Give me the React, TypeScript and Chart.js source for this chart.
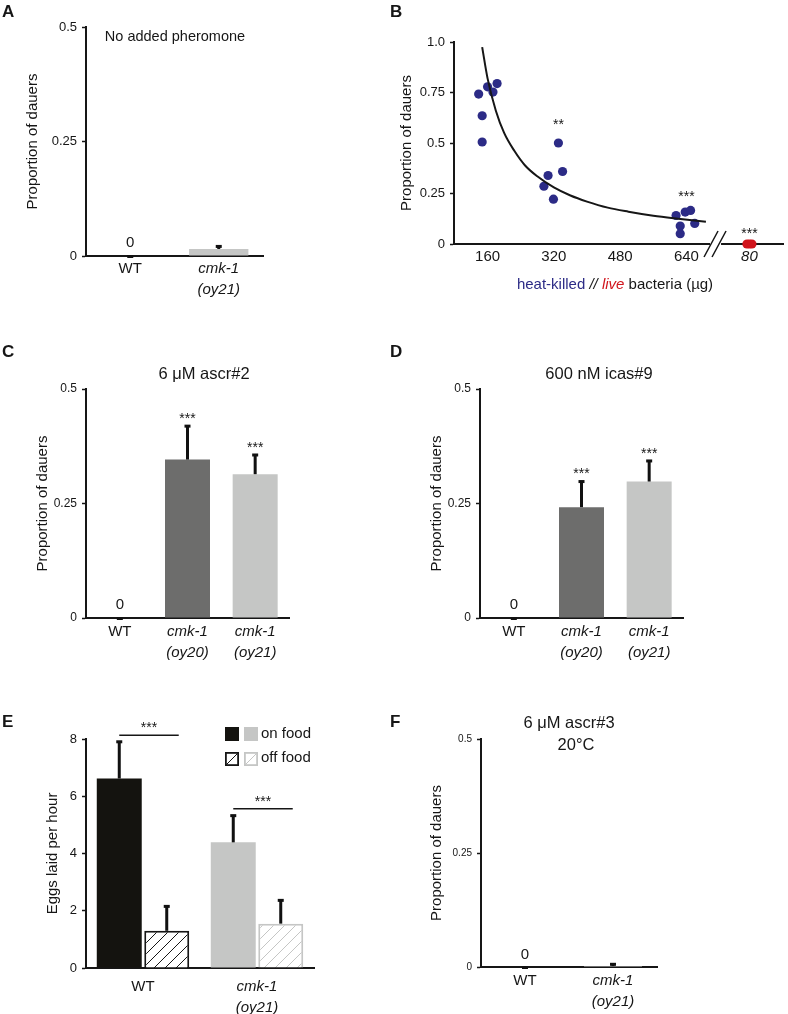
import React, { useEffect, useRef } from "react";
import { Chart, registerables } from "chart.js";

Chart.register(...registerables);

const FONT = "'Liberation Sans', Arial, Helvetica, sans-serif";
const INK = "#161616";
const BAR_BLACK = "#14130f";
const DARK_GRAY = "#6d6d6c";
const LIGHT_GRAY = "#c5c6c5";
const NAVY = "#2c2b86";
const RED = "#d1141c";

// ---------- Panel A : no added pheromone ----------
const aLabels = [["WT"], ["cmk-1", "(oy21)"]];
const aValues = [0, 0.0153];
const aErrors = [0, 0.0067];

// ---------- Panel B : heat-killed // live bacteria ----------
const bHeatKilledDose = [138.5, 147, 147, 160, 173, 183, 296, 306, 319, 331, 341, 615, 625, 625, 637, 650, 660];
const bHeatKilledProp = [0.742, 0.635, 0.505, 0.778, 0.752, 0.794, 0.286, 0.339, 0.222, 0.5, 0.359, 0.141, 0.089, 0.051, 0.158, 0.166, 0.102];
const bLiveDose = 80;
const bLiveProp = [0, 0, 0];
const bLiveJitter = [-6, 0, 6];
const bCurveDose = [147, 160, 180, 200, 225, 250, 280, 320, 360, 400, 450, 500, 560, 620, 687];
const bCurveProp = [0.975, 0.82, 0.66, 0.55, 0.46, 0.39, 0.335, 0.28, 0.24, 0.21, 0.18, 0.16, 0.14, 0.125, 0.11];
const bXTicks = [160, 320, 480, 640];
const bYTicks = [0, 0.25, 0.5, 0.75, 1];
// broken axis: where the live-bacteria group sits, and where the break is drawn
const bLiveSlot = 792;
const bBreakAt = 709;
const bStars = [
  { dose: 331, prop: 0.609, text: "**" },
  { dose: 640, prop: 0.252, text: "***" },
  { dose: bLiveSlot, prop: 0.069, text: "***" },
];

// ---------- Panel C : 6 uM ascr#2 ----------
const cLabels = [["WT"], ["cmk-1", "(oy20)"], ["cmk-1", "(oy21)"]];
const cValues = [0, 0.346, 0.314];
const cErrors = [0, 0.074, 0.043];
const cStars = ["", "***", "***"];

// ---------- Panel D : 600 nM icas#9 ----------
const dLabels = [["WT"], ["cmk-1", "(oy20)"], ["cmk-1", "(oy21)"]];
const dValues = [0, 0.242, 0.298];
const dErrors = [0, 0.057, 0.046];
const dStars = ["", "***", "***"];

// ---------- Panel E : eggs laid per hour ----------
const eLabels = [["WT"], ["cmk-1", "(oy21)"]];
const eOnFood = [6.62, 4.39];
const eOnFoodErr = [1.3, 0.95];
const eOffFood = [1.3, 1.55];
const eOffFoodErr = [0.87, 0.83];
const eSigLevel = [8.13, 5.56];
const eYTicks = [0, 2, 4, 6, 8];

// ---------- Panel F : 6 uM ascr#3 20C ----------
const fLabels = [["WT"], ["cmk-1", "(oy21)"]];
const fValues = [0, 0.002];
const fErrors = [0, 0.005];

const propTicks = [0, 0.25, 0.5];

type Box = { x: number; y: number; w: number; h: number };
type Area = { l: number; t: number; r: number; b: number };

function frame(c: Box, a: Area) {
  return {
    yWidth: a.l - c.x,
    xHeight: c.y + c.h - a.b,
    padding: { top: a.t - c.y, right: c.x + c.w - a.r, left: 0, bottom: 0 },
  };
}

function yAxis(width: number, ticks: number[], tickSize: number, title: string, titleCenter: number, fmt?: (v: number) => string) {
  const f = fmt || ((v: number) => String(v));
  return {
    type: "linear",
    position: "left",
    min: ticks[0],
    max: ticks[ticks.length - 1],
    afterFit: (s: any) => {
      s.width = width;
    },
    afterBuildTicks: (s: any) => {
      s.ticks = ticks.map((v) => ({ value: v }));
    },
    border: { display: true, color: INK, width: 2 },
    grid: { display: true, drawOnChartArea: false, drawTicks: true, tickLength: 4, tickWidth: 1.5, tickColor: INK, color: INK },
    ticks: {
      padding: 5,
      color: INK,
      font: { family: FONT, size: tickSize },
      callback: (v: any) => f(Number(v)),
    },
    title: {
      display: true,
      text: title,
      color: INK,
      font: { family: FONT, size: 15, lineHeight: 1.2 },
      padding: { top: titleCenter - 9, bottom: 0 },
    },
  };
}

function xCategory(height: number, pad: number) {
  return {
    type: "category",
    position: "bottom",
    offset: true,
    afterFit: (s: any) => {
      s.height = height;
    },
    border: { display: true, color: INK, width: 2 },
    grid: { display: false, drawTicks: false },
    ticks: {
      padding: pad,
      color: INK,
      autoSkip: false,
      maxRotation: 0,
      minRotation: 0,
      font: (ctx: any) => ({ family: FONT, size: 15, lineHeight: 1.35, style: ctx.index === 0 ? "normal" : "italic" }),
    },
  };
}

type TextItem = { text: string; x: number; y: number; font: string; color?: string; align?: CanvasTextAlign; baseline?: CanvasTextBaseline };

function canvasText(items: TextItem[]) {
  return {
    id: "canvasText",
    afterDraw(chart: any) {
      const ctx = chart.ctx as CanvasRenderingContext2D;
      ctx.save();
      for (const it of items) {
        ctx.font = it.font;
        ctx.fillStyle = it.color || INK;
        ctx.textAlign = it.align || "center";
        ctx.textBaseline = it.baseline || "middle";
        ctx.fillText(it.text, it.x, it.y);
      }
      ctx.restore();
    },
  };
}

type DataLabel = { text: string; x: number; y: number; dy: number; size: number; star?: boolean };

function dataText(items: DataLabel[]) {
  return {
    id: "dataText",
    afterDatasetsDraw(chart: any) {
      const ctx = chart.ctx as CanvasRenderingContext2D;
      const xs = chart.scales.x;
      const ys = chart.scales.y;
      ctx.save();
      ctx.fillStyle = INK;
      ctx.textAlign = "center";
      for (const it of items) {
        if (!it.text) continue;
        ctx.font = `${it.size}px ${FONT}`;
        const px = xs.getPixelForValue(it.x);
        let py = ys.getPixelForValue(it.y) + it.dy;
        if (it.star) {
          ctx.textBaseline = "alphabetic";
          py += it.size * 0.58;
        } else {
          ctx.textBaseline = "middle";
        }
        ctx.fillText(it.text, px, py);
      }
      ctx.restore();
    },
  };
}

function errorBars(errs: number[][]) {
  return {
    id: "errorBars",
    afterDatasetsDraw(chart: any) {
      const ctx = chart.ctx as CanvasRenderingContext2D;
      const ys = chart.scales.y;
      ctx.save();
      ctx.fillStyle = "#111";
      errs.forEach((list, di) => {
        const meta = chart.getDatasetMeta(di);
        const data = chart.data.datasets[di].data as number[];
        meta.data.forEach((el: any, i: number) => {
          const v = data[i];
          const e = list[i];
          const top = ys.getPixelForValue(v + e);
          const base = ys.getPixelForValue(v);
          ctx.fillRect(el.x - 1.5, top, 3, base - top);
          ctx.fillRect(el.x - 3, top - 1, 6, 3);
        });
      });
      ctx.restore();
    },
  };
}

function baseOptions(fr: ReturnType<typeof frame>, scales: any) {
  return {
    responsive: false,
    maintainAspectRatio: false,
    animation: false,
    devicePixelRatio: 1,
    events: [],
    layout: { padding: fr.padding },
    plugins: { legend: { display: false }, tooltip: { enabled: false }, title: { display: false } },
    scales,
  };
}

function hatch(color: string, step = 11): CanvasPattern | string {
  const c = document.createElement("canvas");
  c.width = step;
  c.height = step;
  const g = c.getContext("2d");
  if (!g) return "#fff";
  g.fillStyle = "#fff";
  g.fillRect(0, 0, step, step);
  g.strokeStyle = color;
  g.lineWidth = 1;
  g.beginPath();
  g.moveTo(0, step);
  g.lineTo(step, 0);
  g.moveTo(-step / 2, step / 2);
  g.lineTo(step / 2, -step / 2);
  g.moveTo(step / 2, step * 1.5);
  g.lineTo(step * 1.5, step / 2);
  g.stroke();
  return g.createPattern(c, "repeat") || "#fff";
}

// ---------------- chart builders ----------------
const boxA: Box = { x: 0, y: 0, w: 386, h: 300 };
const areaA: Area = { l: 86, t: 27, r: 263, b: 256 };
function makeA() {
  const fr = frame(boxA, areaA);
  return {
    type: "bar",
    data: {
      labels: aLabels,
      datasets: [{ data: aValues, backgroundColor: [INK, LIGHT_GRAY], borderWidth: 0, barPercentage: 0.67, categoryPercentage: 1 }],
    },
    options: baseOptions(fr, {
      x: xCategory(fr.xHeight, 3),
      y: yAxis(fr.yWidth, propTicks, 13, "Proportion of dauers", 33),
    }),
    plugins: [
      errorBars([aErrors]),
      dataText([{ text: "0", x: 0, y: 0, dy: -13, size: 15 }]),
      canvasText([
        { text: "A", x: 2, y: 17, font: `bold 17px ${FONT}`, align: "left", baseline: "alphabetic" },
        { text: "No added pheromone", x: 175, y: 37, font: `14.5px ${FONT}` },
      ]),
    ],
  };
}

const boxB: Box = { x: 386, y: 0, w: 402, h: 300 };
const areaB: Area = { l: 454, t: 42, r: 787, b: 244 };
function makeB() {
  const fr = frame(boxB, areaB);
  const xAxis = {
    type: "linear",
    position: "bottom",
    min: 79,
    max: 874,
    afterFit: (s: any) => {
      s.height = fr.xHeight;
    },
    afterBuildTicks: (s: any) => {
      s.ticks = [...bXTicks, bLiveSlot].map((v) => ({ value: v }));
    },
    border: { display: true, color: INK, width: 2 },
    grid: { display: false, drawTicks: false },
    ticks: {
      padding: 4,
      color: INK,
      autoSkip: false,
      maxRotation: 0,
      callback: (v: any) => (Number(v) === bLiveSlot ? String(bLiveDose) : String(v)),
      font: (ctx: any) => ({
        family: FONT,
        size: 15,
        lineHeight: 1.2,
        style: ctx.tick && ctx.tick.value === bLiveSlot ? "italic" : "normal",
      }),
    },
  };
  const breakPlugin = {
    id: "axisBreak",
    afterDraw(chart: any) {
      const ctx = chart.ctx as CanvasRenderingContext2D;
      const xs = chart.scales.x;
      const yb = chart.chartArea.bottom;
      const bx = xs.getPixelForValue(bBreakAt);
      ctx.save();
      ctx.fillStyle = "#fff";
      ctx.fillRect(bx - 5, yb - 3, 11, 6);
      ctx.strokeStyle = INK;
      ctx.lineWidth = 1.5;
      ctx.beginPath();
      ctx.moveTo(bx - 11, yb + 13);
      ctx.lineTo(bx + 3, yb - 13);
      ctx.moveTo(bx - 3, yb + 13);
      ctx.lineTo(bx + 11, yb - 13);
      ctx.stroke();
      // multi-coloured axis title
      const parts: [string, string, string][] = [
        ["heat-killed ", NAVY, "normal"],
        ["//", INK, "italic"],
        [" ", INK, "normal"],
        ["live", RED, "italic"],
        [" bacteria (\u00b5g)", INK, "normal"],
      ];
      let total = 0;
      for (const [t, , st] of parts) {
        ctx.font = `${st} 15px ${FONT}`;
        total += ctx.measureText(t).width;
      }
      let x = 615 - boxB.x - total / 2;
      ctx.textBaseline = "middle";
      ctx.textAlign = "left";
      for (const [t, col, st] of parts) {
        ctx.font = `${st} 15px ${FONT}`;
        ctx.fillStyle = col;
        ctx.fillText(t, x, 285);
        x += ctx.measureText(t).width;
      }
      ctx.restore();
    },
  };
  return {
    type: "scatter",
    data: {
      datasets: [
        {
          data: bCurveDose.map((x, i) => ({ x, y: bCurveProp[i] })),
          showLine: true,
          borderColor: INK,
          borderWidth: 2,
          pointRadius: 0,
          cubicInterpolationMode: "monotone",
          fill: false,
        },
        {
          data: bHeatKilledDose.map((x, i) => ({ x, y: bHeatKilledProp[i] })),
          backgroundColor: NAVY,
          borderWidth: 0,
          pointRadius: 4.6,
        },
        {
          data: bLiveProp.map((y, i) => ({ x: bLiveSlot + bLiveJitter[i], y })),
          backgroundColor: RED,
          borderWidth: 0,
          pointRadius: 4.6,
          clip: false,
        },
      ],
    },
    options: baseOptions(fr, {
      x: xAxis,
      y: yAxis(fr.yWidth, bYTicks, 13, "Proportion of dauers", 21, (v) => (v === 1 ? "1.0" : String(v))),
    }),
    plugins: [
      breakPlugin,
      dataText(bStars.map((s) => ({ text: s.text, x: s.dose, y: s.prop, dy: 0, size: 14, star: true }))),
      canvasText([{ text: "B", x: 4, y: 17, font: `bold 17px ${FONT}`, align: "left", baseline: "alphabetic" }]),
    ],
  };
}

function makeDoseBars(box: Box, area: Area, labels: string[][], values: number[], errors: number[], stars: string[], letter: string, title: string, titleX: number, yTitleCenter: number) {
  const fr = frame(box, area);
  return {
    type: "bar",
    data: {
      labels,
      datasets: [{ data: values, backgroundColor: [INK, DARK_GRAY, LIGHT_GRAY], borderWidth: 0, barPercentage: 0.665, categoryPercentage: 1 }],
    },
    options: baseOptions(fr, {
      x: xCategory(fr.xHeight, 4),
      y: yAxis(fr.yWidth, propTicks, 12, "Proportion of dauers", yTitleCenter),
    }),
    plugins: [
      errorBars([errors]),
      dataText([
        { text: "0", x: 0, y: 0, dy: -13, size: 15 },
        ...stars.map((s, i) => ({ text: s, x: i, y: values[i] + errors[i], dy: -11, size: 14, star: true })),
      ]),
      canvasText([
        { text: letter, x: box.x === 0 ? 2 : 4, y: 57, font: `bold 17px ${FONT}`, align: "left", baseline: "alphabetic" },
        { text: title, x: titleX - box.x, y: 74, font: `16.5px ${FONT}` },
      ]),
    ],
  };
}

const boxC: Box = { x: 0, y: 300, w: 386, h: 360 };
const areaC: Area = { l: 86, t: 389, r: 289, b: 618 };
const boxD: Box = { x: 386, y: 300, w: 402, h: 360 };
const areaD: Area = { l: 480, t: 389, r: 683, b: 618 };

const boxE: Box = { x: 0, y: 660, w: 386, h: 354 };
const areaE: Area = { l: 86, t: 739, r: 314, b: 968 };
function makeE() {
  const fr = frame(boxE, areaE);
  const hatchBlack = hatch(INK);
  const hatchGray = hatch(LIGHT_GRAY);
  const sigPlugin = {
    id: "sig",
    afterDatasetsDraw(chart: any) {
      const ctx = chart.ctx as CanvasRenderingContext2D;
      const ys = chart.scales.y;
      const m0 = chart.getDatasetMeta(0);
      const m1 = chart.getDatasetMeta(1);
      ctx.save();
      eSigLevel.forEach((lvl, i) => {
        const x0 = m0.data[i].x;
        const x1 = m1.data[i].x + 12;
        const y = ys.getPixelForValue(lvl);
        ctx.strokeStyle = INK;
        ctx.lineWidth = 1.5;
        ctx.beginPath();
        ctx.moveTo(x0, y);
        ctx.lineTo(x1, y);
        ctx.stroke();
        ctx.fillStyle = INK;
        ctx.font = `14px ${FONT}`;
        ctx.textAlign = "center";
        ctx.textBaseline = "alphabetic";
        ctx.fillText("***", (x0 + x1) / 2, y - 11 + 8);
      });
      // legend
      const sq = 14;
      const lx = 225;
      const lx2 = 244;
      ctx.fillStyle = BAR_BLACK;
      ctx.fillRect(lx, 67, sq, sq);
      ctx.fillStyle = LIGHT_GRAY;
      ctx.fillRect(lx2, 67, sq, sq);
      const drawHatchSq = (x: number, col: string) => {
        ctx.fillStyle = "#fff";
        ctx.fillRect(x, 92, sq, sq);
        ctx.strokeStyle = col;
        ctx.lineWidth = 1.8;
        ctx.strokeRect(x + 0.9, 92.9, sq - 1.8, sq - 1.8);
        ctx.lineWidth = 1;
        ctx.beginPath();
        ctx.moveTo(x + 1.5, 92 + sq - 1.5);
        ctx.lineTo(x + sq - 1.5, 93.5);
        ctx.stroke();
      };
      drawHatchSq(lx, INK);
      drawHatchSq(lx2, LIGHT_GRAY);
      ctx.fillStyle = INK;
      ctx.font = `15px ${FONT}`;
      ctx.textAlign = "left";
      ctx.textBaseline = "middle";
      ctx.fillText("on food", 261, 74);
      ctx.fillText("off food", 261, 98);
      ctx.restore();
    },
  };
  return {
    type: "bar",
    data: {
      labels: eLabels,
      datasets: [
        { label: "on food", data: eOnFood, backgroundColor: [BAR_BLACK, LIGHT_GRAY], borderWidth: 0, barPercentage: 0.947, categoryPercentage: 0.833 },
        {
          label: "off food",
          data: eOffFood,
          backgroundColor: [hatchBlack, hatchGray],
          borderColor: [INK, LIGHT_GRAY],
          borderWidth: 2,
          borderSkipped: "start",
          barPercentage: 0.947,
          categoryPercentage: 0.833,
        },
      ],
    },
    options: baseOptions(fr, {
      x: xCategory(fr.xHeight, 9),
      y: yAxis(fr.yWidth, eYTicks, 13, "Eggs laid per hour", 53),
    }),
    plugins: [
      errorBars([eOnFoodErr, eOffFoodErr]),
      sigPlugin,
      canvasText([{ text: "E", x: 2, y: 67, font: `bold 17px ${FONT}`, align: "left", baseline: "alphabetic" }]),
    ],
  };
}

const boxF: Box = { x: 386, y: 660, w: 402, h: 354 };
const areaF: Area = { l: 481, t: 739, r: 657, b: 967 };
function makeF() {
  const fr = frame(boxF, areaF);
  return {
    type: "bar",
    data: {
      labels: fLabels,
      datasets: [{ data: fValues, backgroundColor: [INK, LIGHT_GRAY], borderWidth: 0, barPercentage: 0.66, categoryPercentage: 1 }],
    },
    options: baseOptions(fr, {
      x: xCategory(fr.xHeight, 4),
      y: yAxis(fr.yWidth, propTicks, 10, "Proportion of dauers", 51),
    }),
    plugins: [
      errorBars([fErrors]),
      dataText([{ text: "0", x: 0, y: 0, dy: -12, size: 15 }]),
      canvasText([
        { text: "F", x: 4, y: 67, font: `bold 17px ${FONT}`, align: "left", baseline: "alphabetic" },
        { text: "6 \u03bcM ascr#3", x: 569 - boxF.x, y: 63, font: `16.5px ${FONT}` },
        { text: "20\u00b0C", x: 576 - boxF.x, y: 85, font: `16.5px ${FONT}` },
      ]),
    ],
  };
}

function ChartPanel({ box, make }: { box: Box; make: () => any }) {
  const ref = useRef<HTMLCanvasElement>(null);
  useEffect(() => {
    if (!ref.current) return;
    const chart = new Chart(ref.current, make());
    return () => chart.destroy();
  }, []);
  return (
    <canvas
      ref={ref}
      width={box.w}
      height={box.h}
      style={{ position: "absolute", left: box.x, top: box.y, width: box.w, height: box.h }}
    />
  );
}

export default function App() {
  return (
    <div style={{ position: "absolute", left: 0, top: 0, width: 788, height: 1014, background: "#fff", overflow: "hidden" }}>
      <ChartPanel box={boxA} make={makeA} />
      <ChartPanel box={boxB} make={makeB} />
      <ChartPanel
        box={boxC}
        make={() => makeDoseBars(boxC, areaC, cLabels, cValues, cErrors, cStars, "C", "6 \u03bcM ascr#2", 204, 43)}
      />
      <ChartPanel
        box={boxD}
        make={() => makeDoseBars(boxD, areaD, dLabels, dValues, dErrors, dStars, "D", "600 nM icas#9", 599, 51)}
      />
      <ChartPanel box={boxE} make={makeE} />
      <ChartPanel box={boxF} make={makeF} />
    </div>
  );
}
